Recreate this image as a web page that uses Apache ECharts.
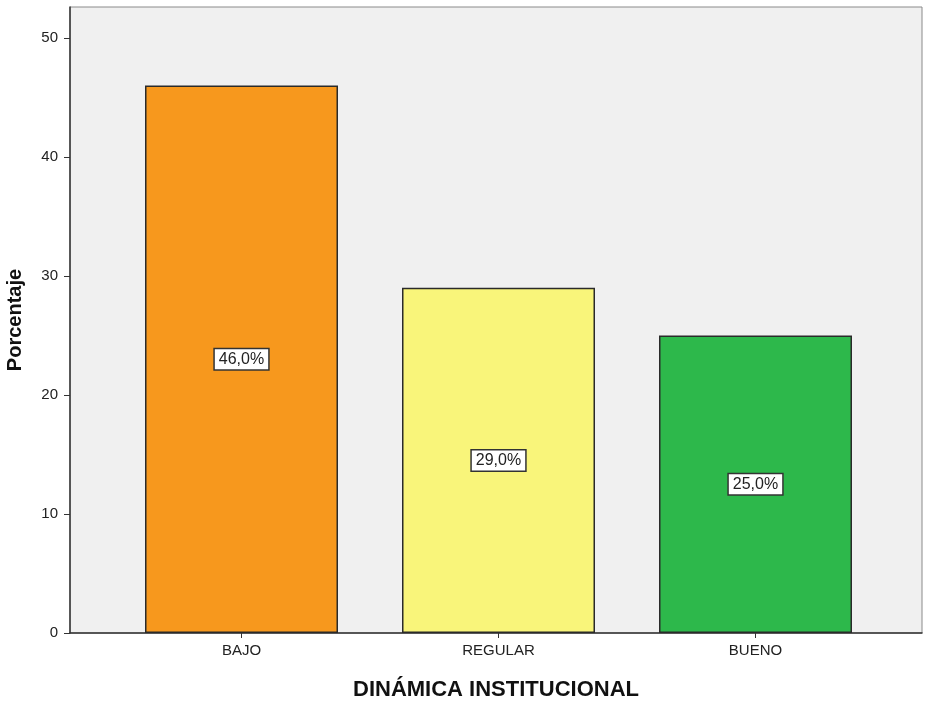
<!DOCTYPE html>
<html>
<head>
    <meta charset="UTF-8">
    <title>Dinámica institucional</title>
    <style>
        html, body { margin: 0; padding: 0; background: #fff; }
        #chart-container { width: 928px; height: 704px; }
    </style>
</head>
<body>
<div id="chart-container"></div>
<script src="https://cdn.jsdelivr.net/npm/echarts@6/dist/echarts.min.js"></script>
<script>
    // datos
    const categories = ['BAJO', 'REGULAR', 'BUENO'];
    const percentages = [46.0, 29.0, 25.0];
    const barColors = ['#f7981d', '#f9f57a', '#2db84b'];
    const yTicks = [0, 10, 20, 30, 40, 50];

    const chart = echarts.init(document.getElementById('chart-container'));
    const font = 'Liberation Sans, Arial, sans-serif';

    const option = {
        backgroundColor: '#ffffff',
        animation: false,
        grid: [
            // marco / fondo gris
            { left: 70, top: 7, width: 852, height: 626, show: true, outerBoundsMode: 'none',
              backgroundColor: '#f0f0f0', borderColor: '#8a8a8a', borderWidth: 1 },
            // barras (SPSS deja margen a los lados)
            { left: 113, top: 7, width: 771, height: 626, outerBoundsMode: 'none' }
        ],
        xAxis: [
            {
                gridIndex: 0, type: 'category', data: [''],
                axisLine: { show: true, lineStyle: { color: '#333', width: 1.5 } },
                axisTick: { show: false }, axisLabel: { show: false },
                name: 'DINÁMICA INSTITUCIONAL', nameLocation: 'middle', nameGap: 46,
                nameTextStyle: { fontFamily: font, fontSize: 22, fontWeight: 'bold', color: '#111' }
            },
            {
                gridIndex: 1, type: 'category', data: categories,
                axisLine: { show: false },
                axisTick: { show: true, alignWithLabel: true, length: 5, lineStyle: { color: '#333' } },
                axisLabel: { fontFamily: font, fontSize: 15, color: '#222', margin: 10 }
            }
        ],
        yAxis: [
            {
                gridIndex: 0, type: 'value', min: 0, max: 52.6, interval: 10,
                splitLine: { show: false },
                axisLine: { show: true, lineStyle: { color: '#333', width: 1.5 } },
                axisTick: { show: true, length: 6, customValues: yTicks, lineStyle: { color: '#333' } },
                axisLabel: { fontFamily: font, fontSize: 15, color: '#222', margin: 12,
                             customValues: yTicks },
                name: 'Porcentaje', nameLocation: 'middle', nameGap: 45, nameRotate: 90,
                nameTextStyle: { fontFamily: font, fontSize: 20, fontWeight: 'bold', color: '#111' }
            },
            {
                gridIndex: 1, type: 'value', min: 0, max: 52.6, show: false
            }
        ],
        series: [{
            type: 'bar',
            xAxisIndex: 1, yAxisIndex: 1,
            barWidth: 193,
            data: percentages.map((v, i) => ({
                value: v,
                itemStyle: { color: barColors[i], borderColor: '#2a2a2a', borderWidth: 1.5 }
            })),
            label: {
                show: true, position: 'inside',
                formatter: p => p.value.toFixed(1).replace('.', ',') + '%',
                fontFamily: font, fontSize: 16, color: '#222',
                backgroundColor: '#ffffff', borderColor: '#333', borderWidth: 1.5,
                padding: [3, 4, 1, 4]
            }
        }]
    };

    chart.setOption(option);
</script>
</body>
</html>
